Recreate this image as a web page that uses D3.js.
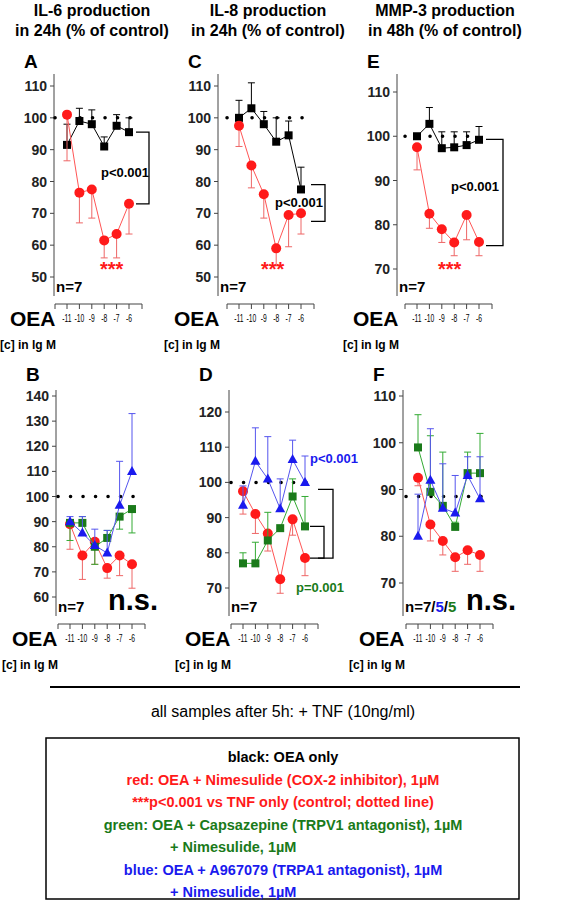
<!DOCTYPE html><html><head><meta charset="utf-8"><script src="https://cdn.jsdelivr.net/npm/d3@7"></script>
<style>body{margin:0;background:#fff}svg{font-family:Arial,"Liberation Sans",sans-serif}</style></head><body><svg id="c" width="567" height="902"></svg>
<script>
const xCats=[-11,-10,-9,-8,-7,-6];
const xLabels=["-11","-10","-9","-8","-7","-6"];
// panel A
const aBlack=[91.5,99,98,91,97.5,95.5], aBlackErr=[98,103,102.5,94,101,100];
const aRed=[101,76.5,77.5,61.5,63.5,73], aRedErr=[86.5,67,68.5,56,56,63.5];
// panel C
const cBlack=[100,103,98,92.5,94.5,77.5], cBlackErr=[105.5,111,102,100,99,84.5];
const cRed=[97.5,85,76,59,69.5,70], cRedErr=[91,78,68.5,53.5,59.5,63.5];
// panel E
const eBlack=[100,102.8,97.3,97.5,98,99.2], eBlackErr=[100,106.5,101,101,101,102.2];
const eRed=[97.5,82.5,79,76,82.2,76.1], eRedErr=[92.4,79.2,76,73,76.6,73];
// panel B
const bRed=[89,76.5,82,71.5,76.5,73], bRedErr=[79,67,73,67.5,68.5,63.5];
const bGreen=[89.5,89.5,80,83.5,92,95], bGreenErr=[82.5,92,73,86.5,87,85.5];
const bBlue=[90,85.5,80.5,77.5,96.5,110], bBlueErr=[92,92,87,86.5,114,133];
// panel D
const dRed=[97.5,91,85.5,72.5,89.5,78.5], dRedErr=[91,85.5,80.5,68.5,85,73.5];
const dGreen=[77,77,83.5,87,96,87.5], dGreenErr=[80,83,91.5,87,101,96];
const dBlue=[93.5,106,101,92.5,106.5,100], dBlueErr=[99,115.5,113,101,112,107.5];
// panel F
const fRed=[92.5,82.5,79,75.5,77,76], fRedErr=[90.8,79,76,72.5,74,72.5];
const fGreen=[99,89.5,86.5,82,93.5,93.5], fGreenErr=[106,101.5,98,83,98,102];
const fBlue=[80,92,86,85,93,88], fBlueErr=[89,103,95.5,93,97,97];

const svg=d3.select("#c");
const RED="#ff1a1a",GREEN="#1a7a1a",BLUE="#1a1aee";
const titles=[["IL-6 production","in 24h (% of control)",92],["IL-8 production","in 24h (% of control)",268],["MMP-3 production","in 48h (% of control)",445]];
titles.forEach(t=>{svg.append("text").attr("x",t[2]).attr("y",16).attr("text-anchor","middle").attr("font-size",16).attr("font-weight","bold").text(t[0]);
svg.append("text").attr("x",t[2]).attr("y",36).attr("text-anchor","middle").attr("font-size",16).attr("font-weight","bold").text(t[1]);});

function panel(o){
  const g=svg.append("g");
  const y=d3.scaleLinear().domain(o.yd).range(o.yr);
  const x=d3.scaleLinear().domain([-11,-6]).range([o.x0,o.x0+62]);
  g.append("text").attr("x",o.ax-30).attr("y",o.letterY).attr("font-size",19).attr("font-weight","bold").text(o.letter);
  g.append("line").attr("x1",o.ax).attr("x2",o.ax).attr("y1",o.top).attr("y2",o.bot).attr("stroke","#444");
  o.ticks.forEach(t=>{g.append("line").attr("x1",o.ax-4).attr("x2",o.ax).attr("y1",y(t)).attr("y2",y(t)).attr("stroke","#444");
    g.append("text").attr("x",o.ax-7).attr("y",y(t)+5).attr("text-anchor","end").attr("font-size",14).attr("font-weight","bold").attr("fill","#222").text(t);});
  const xl=o.x0-12, xr=o.x0+75, xy=o.bot+8;
  g.append("line").attr("x1",xl).attr("x2",xr).attr("y1",xy).attr("y2",xy).attr("stroke","#444");
  [xl,...xCats.map(x),xr].forEach(v=>g.append("line").attr("x1",v).attr("x2",v).attr("y1",xy).attr("y2",xy+5).attr("stroke","#444"));
  xCats.forEach((c,i)=>g.append("text").attr("x",x(c)).attr("y",xy+17).attr("text-anchor","middle").attr("font-size",9).attr("fill","#000").attr("transform",`translate(${x(c)},${xy+14}) scale(0.75,1.2) translate(${-x(c)},${-(xy+14)})`).text(xLabels[i]));
  g.append("text").attr("x",o.ax-44).attr("y",xy+22).attr("font-size",21).attr("font-weight","bold").text("OEA");
  g.append("text").attr("x",o.ax-54).attr("y",xy+45).attr("font-size",12).attr("font-weight","bold").text("[c] in lg M");
  g.append("line").attr("x1",o.x0-12).attr("x2",o.dotEnd).attr("y1",y(o.dot)).attr("y2",y(o.dot)).attr("stroke","#000").attr("stroke-width",3.5).attr("stroke-dasharray","0.1,12.4").attr("stroke-linecap","round");
  o.series.forEach(s=>{
    s.v.forEach((v,i)=>{const xx=x(xCats[i]);
      g.append("line").attr("x1",xx).attr("x2",xx).attr("y1",y(v)).attr("y2",y(s.e[i])).attr("stroke",s.ec||s.c);
      g.append("line").attr("x1",xx-3.5).attr("x2",xx+3.5).attr("y1",y(s.e[i])).attr("y2",y(s.e[i])).attr("stroke",s.ec||s.c);});
    g.append("path").datum(s.v).attr("fill","none").attr("stroke",s.lc||s.c).attr("stroke-width",1)
      .attr("d",d3.line().x((d,i)=>x(xCats[i])).y(d=>y(d)));
    s.v.forEach((v,i)=>{const xx=x(xCats[i]),yy=y(v);
      if(s.m==="c")g.append("circle").attr("cx",xx).attr("cy",yy).attr("r",5).attr("fill",s.c);
      else if(s.m==="s")g.append("rect").attr("x",xx-4).attr("y",yy-4).attr("width",8).attr("height",8).attr("fill",s.c);
      else g.append("path").attr("d",`M${xx},${yy-5.5}L${xx+5},${yy+3.5}L${xx-5},${yy+3.5}Z`).attr("fill",s.c);});
  });
  g.append("text").attr("x",o.ax+2).attr("y",o.bot-4).attr("font-size",15).attr("font-weight","bold").selectAll("tspan").data(o.n).join("tspan").attr("fill",d=>d[1]).text(d=>d[0]);
  return {g,x,y};
}
const blk=(v,e)=>({v,e,c:"#000",m:"s"});
const red=(v,e)=>({v,e,c:RED,ec:"#e66",lc:"#f55",m:"c"});
const grn=(v,e)=>({v,e,c:GREEN,ec:"#3a3",lc:"#3a3",m:"s"});
const blu=(v,e)=>({v,e,c:BLUE,ec:"#55e",lc:"#55e",m:"t"});
function bracket(g,x1,y1,y2,xe){g.append("path").attr("d",`M${x1},${y1}H${xe}V${y2}H${x1}`).attr("fill","none").attr("stroke","#000").attr("stroke-width",1.3);}
function t(g,x,y,s,c,fs,anchor){g.append("text").attr("x",x).attr("y",y).attr("font-size",fs||13).attr("font-weight","bold").attr("fill",c||"#000").attr("text-anchor",anchor||"start").text(s);}

let P=panel({letter:"A",letterY:68,ax:54,x0:67,yd:[50,110],yr:[277,86],ticks:[50,60,70,80,90,100,110],top:74,bot:296,dot:100,dotEnd:132,
 series:[blk(aBlack,aBlackErr),red(aRed,aRedErr)],n:[["n=7","#000"]]});
bracket(P.g,136,P.y(95.5),P.y(73),149);t(P.g,101,177,"p<0.001");t(P.g,100,276,"***",RED,20,"start");
P=panel({letter:"C",letterY:68,ax:218,x0:239,yd:[50,110],yr:[277,86],ticks:[50,60,70,80,90,100,110],top:74,bot:296,dot:100,dotEnd:305,
 series:[blk(cBlack,cBlackErr),red(cRed,cRedErr)],n:[["n=7","#000"]]});
bracket(P.g,311,P.y(79),P.y(67.5),325);t(P.g,275,207,"p<0.001");t(P.g,261,276,"***",RED,20);
P=panel({letter:"E",letterY:68,ax:397,x0:417,yd:[70,110],yr:[269,92],ticks:[70,80,90,100,110],top:74,bot:296,dot:100,dotEnd:479,
 series:[blk(eBlack,eBlackErr),red(eRed,eRedErr)],n:[["n=7","#000"]]});
bracket(P.g,486,P.y(99.3),P.y(75.3),503);t(P.g,451,191,"p<0.001");t(P.g,438,276,"***",RED,20);

P=panel({letter:"B",letterY:381,ax:56,x0:70,yd:[60,140],yr:[597,396],ticks:[60,70,80,90,100,110,120,130,140],top:390,bot:616,dot:100,dotEnd:137,
 series:[red(bRed,bRedErr),grn(bGreen,bGreenErr),blu(bBlue,bBlueErr)],n:[["n=7","#000"]]});
t(P.g,108,610,"n.s.","#000",29);
P=panel({letter:"D",letterY:381,ax:229,x0:243,yd:[70,120],yr:[588,412],ticks:[70,80,90,100,110,120],top:390,bot:616,dot:100,dotEnd:310,
 series:[red(dRed,dRedErr),grn(dGreen,dGreenErr),blu(dBlue,dBlueErr)],n:[["n=7","#000"]]});
bracket(P.g,318,P.y(98),P.y(78.5),333);bracket(P.g,310,P.y(87.5),P.y(78.5),324);
t(P.g,310,463,"p<0.001",BLUE);t(P.g,296,592,"p=0.001",GREEN);
P=panel({letter:"F",letterY:381,ax:403,x0:418,yd:[70,110],yr:[583,396],ticks:[70,80,90,100,110],top:390,bot:616,dot:88.5,dotEnd:486,
 series:[red(fRed,fRedErr),grn(fGreen,fGreenErr),blu(fBlue,fBlueErr)],n:[["n=7/","#000"],["5","#1a1aee"],["/","#000"],["5","#1a7a1a"]]});
t(P.g,466,610,"n.s.","#000",29);

svg.append("line").attr("x1",50).attr("x2",520).attr("y1",687).attr("y2",687).attr("stroke","#000").attr("stroke-width",2);
svg.append("text").attr("x",283).attr("y",717).attr("text-anchor","middle").attr("font-size",16).text("all samples after 5h: + TNF (10ng/ml)");
svg.append("rect").attr("x",46).attr("y",738).attr("width",473).attr("height",161).attr("fill","none").attr("stroke","#000").attr("stroke-width",1.5);
const legendLines=[["black: OEA only","#000"],["red: OEA + Nimesulide (COX-2 inhibitor), 1µM",RED],["***p<0.001 vs TNF only (control; dotted line)",RED],
["green: OEA + Capsazepine (TRPV1 antagonist), 1µM",GREEN],["+ Nimesulide, 1µM",GREEN],["blue: OEA + A967079 (TRPA1 antagonist), 1µM",BLUE],["+ Nimesulide, 1µM",BLUE]];
legendLines.forEach((l,i)=>{const x=(i===4?170:i===6?170:283);
 svg.append("text").attr("x",x).attr("y",762+i*22.5).attr("text-anchor",(i===4||i===6)?"start":"middle").attr("font-size",14.5).attr("font-weight","bold").attr("fill",l[1]).text(l[0]);});
</script></body></html>
